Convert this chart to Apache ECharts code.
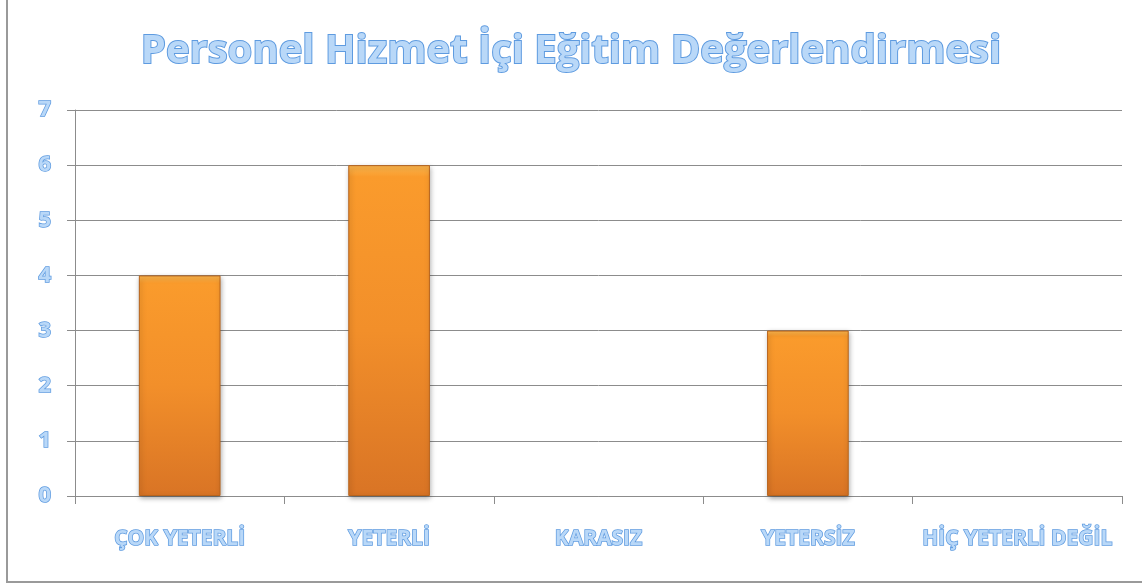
<!DOCTYPE html>
<html><head><meta charset="utf-8">
<script src="https://cdn.jsdelivr.net/npm/echarts@6/dist/echarts.min.js"></script>
<style>
html,body{margin:0;padding:0;background:#fff;}
#frame{position:absolute;left:0;top:0;width:1142px;height:584px;}
#border{position:absolute;left:6px;top:0;width:1200px;height:581px;border-left:2px solid #9a9a9a;border-bottom:2px solid #9a9a9a;pointer-events:none;}
#chart{position:absolute;left:0;top:0;width:1142px;height:584px;}
</style></head>
<body>
<div id="frame"><div id="chart"></div><div id="border"></div></div>
<script>
const titleText = 'Personel Hizmet İçi Eğitim Değerlendirmesi';
const categories = ['ÇOK YETERLİ', 'YETERLİ', 'KARASIZ', 'YETERSİZ', 'HİÇ YETERLİ DEĞİL'];
const values = [4, 6, 0, 3, 0];
const yTicks = [0, 1, 2, 3, 4, 5, 6, 7];

const textFill = '#b9d8f8';
const textStroke = '#5e9be0';

const chart = echarts.init(document.getElementById('chart'), null, {renderer: 'canvas'});
chart.setOption({
  animation: false,
  backgroundColor: '#ffffff',
  title: {
    text: titleText,
    left: 'center',
    top: 27,
    textStyle: {
      fontFamily: 'Open Sans', fontWeight: 'bold', fontSize: 40,
      color: textFill, textBorderColor: textStroke, textBorderWidth: 2
    }
  },
  grid: {left: 75, right: 20, top: 110, bottom: 88, containLabel: false},
  xAxis: {
    type: 'category',
    data: categories,
    boundaryGap: true,
    axisLine: {show: true, lineStyle: {color: '#8c8c8c', width: 1}},
    axisTick: {show: true, inside: false, length: 8, alignWithLabel: false, lineStyle: {color: '#8c8c8c'}},
    axisLabel: {
      margin: 33, interval: 0,
      fontFamily: 'Open Sans', fontWeight: 'bold', fontSize: 21,
      color: textFill, textBorderColor: textStroke, textBorderWidth: 1.5
    }
  },
  yAxis: {
    type: 'value',
    min: yTicks[0], max: yTicks[yTicks.length - 1], interval: 1,
    axisLine: {show: true, lineStyle: {color: '#8c8c8c', width: 1}},
    axisTick: {show: true, length: 8, lineStyle: {color: '#8c8c8c'}},
    splitLine: {show: true, lineStyle: {color: '#8c8c8c', width: 1}},
    axisLabel: {
      margin: 24,
      fontFamily: 'Open Sans', fontWeight: 'bold', fontSize: 22,
      color: textFill, textBorderColor: textStroke, textBorderWidth: 1.5
    }
  },
  series: [{
    type: 'bar',
    data: values.map(v => ({value: v, itemStyle: v === 0 ? {opacity: 0} : undefined})),
    barWidth: '39%',
    itemStyle: {
      color: new echarts.graphic.LinearGradient(0, 0, 0, 1, [
        {offset: 0, color: '#fdb84f'},
        {offset: 0.035, color: '#fa9b2c'},
        {offset: 0.5, color: '#f28f2a'},
        {offset: 1, color: '#d97425'}
      ]),
      borderColor: '#b8641c',
      borderWidth: 1,
      shadowColor: 'rgba(0,0,0,0.35)',
      shadowBlur: 5,
      shadowOffsetX: 1,
      shadowOffsetY: 2
    }
  }]
});
</script>
</body></html>
